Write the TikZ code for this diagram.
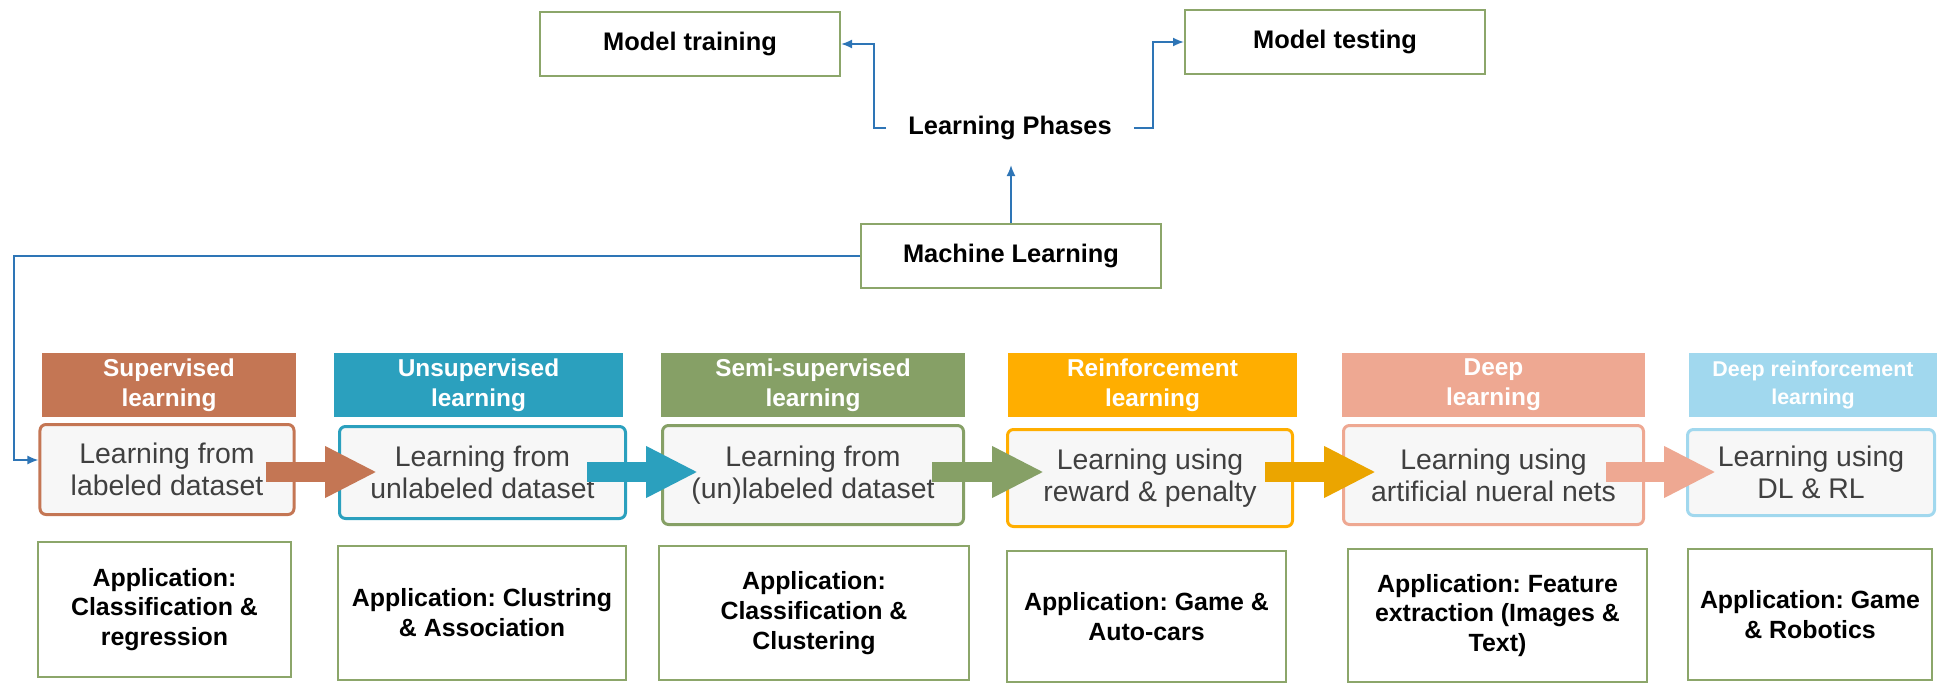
\documentclass[tikz,border=0pt]{standalone}
\usepackage{fontspec}
\setmainfont{Liberation Sans}
\usetikzlibrary{arrows.meta,calc}
\definecolor{supc}{RGB}{196,118,84}
\definecolor{unsc}{RGB}{43,160,190}
\definecolor{semc}{RGB}{134,160,102}
\definecolor{rfc}{RGB}{255,174,0}
\definecolor{rfa}{RGB}{235,165,0}
\definecolor{dlc}{RGB}{238,168,146}
\definecolor{drlc}{RGB}{161,216,238}
\definecolor{appgreen}{RGB}{140,166,106}
\definecolor{connblue}{RGB}{46,117,182}
\definecolor{bodyfill}{RGB}{247,247,247}
\definecolor{bodytext}{RGB}{64,64,64}
\frenchspacing
\begin{document}
\begin{tikzpicture}[x=1bp,y=-1bp,
  hdr/.style={fill=#1, text=white, font=\bfseries\fontsize{24.5}{30}\selectfont, align=center, inner sep=0pt, minimum height=64bp},
  bodybox/.style={draw=#1, line width=3bp, rounded corners=6bp, fill=bodyfill, text=bodytext, font=\fontsize{28.5}{32}\selectfont, align=center, inner sep=0pt},
  appbox/.style={draw=appgreen, line width=1.5bp, fill=white, font=\bfseries\fontsize{25}{30}\selectfont, align=center, inner sep=0pt},
  topbox/.style={draw=appgreen, line width=2bp, fill=white, font=\bfseries\fontsize{25.5}{29}\selectfont, minimum width=300bp, minimum height=64bp, inner sep=0pt},
  conn/.style={draw=connblue, line width=1.8bp},
  ctip/.style={-{Latex[length=11bp,width=9bp]}},
  blk/.style={draw=#1, line width=20bp, -{Triangle[length=52bp,width=48bp]}}
]
\useasboundingbox (0,0) rectangle (1937,683);

% top part
\node[topbox] (mtr) at (690,44) {Model training};
\node[topbox] (mts) at (1335,42) {Model testing};
\node[topbox] (ml) at (1011,256) {Machine Learning};
\node[font=\bfseries\fontsize{25.5}{29}\selectfont, inner xsep=22bp, inner ysep=0pt] (lp) at (1010,128) {Learning Phases};
\coordinate (upend) at (1011,165);
\coordinate (lcorner) at (14,460);

% headers
\node[hdr=supc, minimum width=254bp] (h1) at (169,385) {Supervised\\learning};
\node[hdr=unsc, minimum width=289bp] (h2) at (478.5,385) {Unsupervised\\learning};
\node[hdr=semc, minimum width=304bp] (h3) at (813,385) {Semi-supervised\\learning};
\node[hdr=rfc, minimum width=289bp] (h4) at (1152.5,385) {Reinforcement\\learning};
\node[hdr=dlc, minimum width=303bp] (h5) at (1493.5,385) {Deep\\learning};
\node[hdr=drlc, minimum width=248bp, font=\bfseries\fontsize{21.5}{28}\selectfont] (h6) at (1813,385) {Deep reinforcement\\learning};

% bodies
\node[bodybox=supc, minimum width=254bp, minimum height=90bp] (b1) at (167,469.5) {Learning from\\labeled dataset};
\node[bodybox=unsc, minimum width=286bp, minimum height=92bp] (b2) at (482.5,472.5) {Learning from\\unlabeled dataset};
\node[bodybox=semc, minimum width=301bp, minimum height=99bp] (b3) at (813,475) {Learning from\\(un)labeled dataset};
\node[bodybox=rfc, minimum width=285bp, minimum height=97bp] (b4) at (1150,478) {Learning using\\reward \& penalty};
\node[bodybox=dlc, minimum width=300bp, minimum height=99bp] (b5) at (1493.5,475) {Learning using\\artificial nueral nets};
\node[bodybox=drlc, minimum width=247bp, minimum height=86bp] (b6) at (1811,472.5) {Learning using\\DL \& RL};

% applications
\node[appbox, minimum width=253bp, minimum height=135bp] (a1) at (164.5,609.5) {Application:\\Classification \&\\regression};
\node[appbox, minimum width=288bp, minimum height=134bp] (a2) at (482,613) {Application: Clustring\\\& Association};
\node[appbox, minimum width=310bp, minimum height=134bp] (a3) at (814,613) {Application:\\Classification \&\\Clustering};
\node[appbox, minimum width=279bp, minimum height=131bp] (a4) at (1146.5,616.5) {Application: Game \&\\Auto-cars};
\node[appbox, minimum width=299bp, minimum height=133bp] (a5) at (1497.5,615.5) {Application: Feature\\extraction (Images \&\\Text)};
\node[appbox, minimum width=244bp, minimum height=131bp] (a6) at (1810,614.5) {Application: Game\\\& Robotics};

% block arrows
\coordinate (arY) at (0,472);
\draw[blk=supc] ($(b1.east |- arY)+(-30,0)$) -- ($(b2.west |- arY)+(39,0)$);
\draw[blk=unsc] ($(b2.east |- arY)+(-40,0)$) -- ($(b3.west |- arY)+(37,0)$);
\draw[blk=semc] ($(b3.east |- arY)+(-33,0)$) -- ($(b4.west |- arY)+(38,0)$);
\draw[blk=rfa] ($(b4.east |- arY)+(-29,0)$) -- ($(b5.west |- arY)+(34,0)$);
\draw[blk=dlc] ($(b5.east |- arY)+(-39,0)$) -- ($(b6.west |- arY)+(30,0)$);

% connectors
\draw[conn,ctip] (lp.west) -- ++(-12,0) |- (mtr.east);
\draw[conn,ctip] (lp.east) -- ++(19,0) |- (mts.west);
\draw[conn,ctip] (ml.north) -- (upend);
\draw[conn,ctip] (ml.west) -| (lcorner) -- ($(b1.west)+(0,-9.5)$);
\end{tikzpicture}
\end{document}
